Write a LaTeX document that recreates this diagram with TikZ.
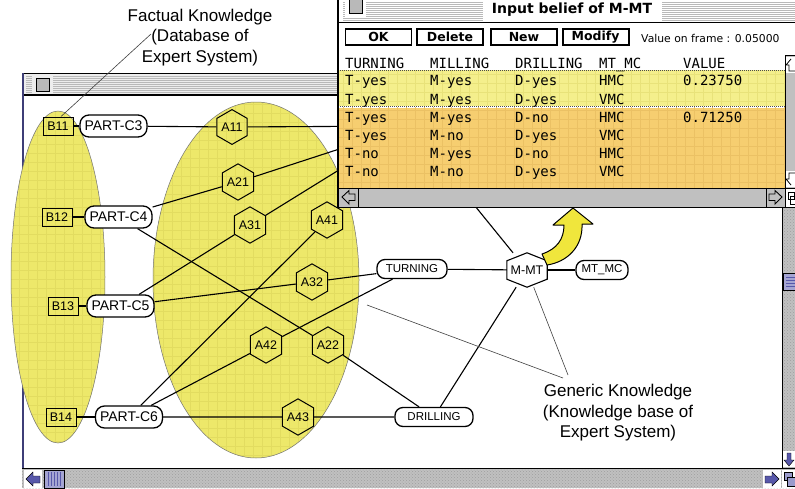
\documentclass[tikz,border=0pt]{standalone}
\usepackage{fontspec}
\setmainfont{Liberation Sans}
\newfontfamily\monof{DejaVu Sans Mono}
\newfontfamily\macf{DejaVu Sans}
\usetikzlibrary{shapes.geometric,calc,patterns}
\definecolor{ellY}{RGB}{237,232,106}
\definecolor{ellG}{RGB}{226,220,96}
\definecolor{bandY}{RGB}{244,239,140}
\definecolor{bandYG}{RGB}{232,226,122}
\definecolor{bandO}{RGB}{246,206,112}
\definecolor{bandOG}{RGB}{235,193,100}
\definecolor{arrY}{RGB}{240,230,60}
\definecolor{macblue}{RGB}{88,88,170}
\definecolor{thumbB}{RGB}{165,165,210}
\definecolor{scrollG}{RGB}{192,192,192}
\begin{document}
\begin{tikzpicture}[x=1pt,y=-1pt,
  bbox/.style={draw,line width=1,minimum width=30,minimum height=18,inner sep=0,font=\fontsize{12.5}{13}\selectfont},
  pbox/.style={draw,fill=white,line width=1.3,rounded corners=9,minimum height=22,minimum width=67,inner sep=0,font=\fontsize{14}{15}\selectfont},
  vbox/.style={draw,fill=white,line width=1.3,rounded corners=8,minimum height=19,inner sep=0,font=\fontsize{11.5}{12}\selectfont},
  hexa/.style={draw,line width=1,regular polygon,regular polygon sides=6,shape border rotate=30,minimum size=34,inner sep=0,font=\fontsize{12.5}{13}\selectfont},
  conn/.style={line width=1.1},
  annot/.style={line width=0.6,black!75},
  notetext/.style={align=center,inner sep=0,font=\fontsize{17}{20.5}\selectfont},
  tcell/.style={anchor=base west,inner sep=0,font=\monof\fontsize{14}{15}\selectfont},
  btn/.style={draw,line width=1.2,minimum width=66,minimum height=16,inner sep=0,font=\macf\bfseries\fontsize{12.5}{13}\selectfont},
  gridln/.style={line width=0.3},
]
\useasboundingbox (0,0) rectangle (795,488);
\fill[white] (0,0) rectangle (795,488);

% ---------- main window ----------
\fill[white] (22,73) rectangle (795,468);
\fill[gray!14] (22,73) rectangle (795,95);
\foreach \yy in {76,78,...,92} \draw[gray!55,line width=0.7] (26,\yy) -- (795,\yy);
\fill[gray!14] (32,75) rectangle (53,93);
\draw[line width=1,fill=gray!55] (36,78) rectangle (49,91);
\draw[line width=1] (22,73) -- (795,73);
\draw[line width=1.3] (22,95) -- (782,95);
\draw[line width=2.2,macblue!70!black] (23,73) -- (23,468);

% right scrollbar
\fill[scrollG] (782,95) rectangle (795,468);
\fill[pattern=crosshatch dots,pattern color=gray!75] (782,95) rectangle (795,468);
\draw[line width=1] (782,95) -- (782,468);
\draw[fill=thumbB] (783,273) rectangle (795,290);
\foreach \yy in {277,280,...,287} \draw[macblue] (786,\yy) -- (795,\yy);
\fill[white] (783,451) rectangle (795,467);
\draw[fill=macblue] (789,466) -- (784,460) -- (787,460) -- (787,453) -- (791,453) -- (791,460) -- (794,460) -- cycle;

% bottom scrollbar
\fill[scrollG] (22,468) rectangle (795,488);
\fill[pattern=crosshatch dots,pattern color=gray!75] (22,468) rectangle (795,488);
\draw[line width=1] (22,468) -- (795,468);
\fill[white] (24,469.5) rectangle (42,488);
\draw[fill=macblue] (26,479) -- (33,472) -- (33,476) -- (40,476) -- (40,483) -- (33,483) -- (33,486) -- cycle;
\draw[fill=thumbB] (44,470) rectangle (64,488);
\foreach \xx in {48,51,...,60} \draw[macblue] (\xx,472) -- (\xx,486);
\fill[white] (763,469.5) rectangle (781,488);
\draw[fill=macblue] (779,479) -- (772,472) -- (772,476) -- (765,476) -- (765,483) -- (772,483) -- (772,486) -- cycle;
\fill[white] (782,469.5) rectangle (795,488);
\draw[fill=macblue!60] (784,472) rectangle (792,480);
\draw[fill=macblue!60] (787,477) rectangle (795,486);

% ---------- yellow ellipses ----------
\fill[ellY] (58,277) ellipse [x radius=47,y radius=166];
\begin{scope}
  \clip (58,277) ellipse [x radius=47,y radius=166];
  \foreach \xx in {10,19,...,110} \draw[ellG,gridln] (\xx,105) -- (\xx,450);
  \foreach \yy in {108,117,...,450} \draw[ellG,gridln] (8,\yy) -- (110,\yy);
\end{scope}
\draw[black!55,line width=0.5] (58,277) ellipse [x radius=47,y radius=166];

\fill[ellY] (256,280) ellipse [x radius=103,y radius=178];
\begin{scope}
  \clip (256,280) ellipse [x radius=103,y radius=178];
  \foreach \xx in {154,163,...,362} \draw[ellG,gridln] (\xx,100) -- (\xx,460);
  \foreach \yy in {104,113,...,460} \draw[ellG,gridln] (150,\yy) -- (362,\yy);
\end{scope}
\draw[black!55,line width=0.5] (256,280) ellipse [x radius=103,y radius=178];

% ---------- nodes ----------
\node[bbox] (b11) at (58,126) {B11};
\node[bbox] (b12) at (57,217) {B12};
\node[bbox] (b13) at (63,306) {B13};
\node[bbox] (b14) at (61,417) {B14};
\node[pbox] (pc3) at (113.5,126) {PART-C3};
\node[pbox] (pc4) at (118.5,217) {PART-C4};
\node[pbox] (pc5) at (120.5,306) {PART-C5};
\node[pbox] (pc6) at (129,417) {PART-C6};
\node[hexa] (a11) at (232,127) {A11};
\node[hexa] (a21) at (238,182) {A21};
\node[hexa] (a31) at (250,225) {A31};
\node[hexa] (a41) at (327,220) {A41};
\node[hexa] (a32) at (312,282) {A32};
\node[hexa] (a42) at (266,345) {A42};
\node[hexa] (a22) at (328,345) {A22};
\node[hexa] (a43) at (298,417) {A43};
\node[vbox,minimum width=70] (turn) at (412,269) {TURNING};
\node[vbox,minimum width=78] (drill) at (434,417) {DRILLING};
\node[vbox,minimum width=52] (mtmc) at (602,270) {MT\_MC};
\node[minimum width=40,minimum height=34,inner sep=0] (mmt) at (527,270) {};
\draw[line width=1.1,fill=white] (mmt.north) -- ($(mmt.north east)+(0pt,-8pt)$) -- ($(mmt.south east)+(0pt,8pt)$) -- (mmt.south) -- ($(mmt.south west)+(0pt,8pt)$) -- ($(mmt.north west)+(0pt,-8pt)$) -- cycle;
\node[inner sep=0,font=\fontsize{12.5}{13}\selectfont] (mmtlabel) at (mmt.center) {M-MT};
\coordinate (milling) at (410,126);

% ---------- connectors ----------
\draw[conn] (b11) -- (pc3);
\draw[conn] (pc3) -- (a11);
\draw[conn] (a11) -- (milling);
\draw[conn] (b12) -- (pc4);
\draw[conn] (pc4) -- (a21);
\draw[conn] (a21) -- (milling);
\draw[conn] (pc4) -- (a22);
\draw[conn] (a22) -- (drill);
\draw[conn] (b13) -- (pc5);
\draw[conn] (pc5) -- (a31);
\draw[conn] (a31) -- (milling);
\draw[conn] (pc5) -- (a32);
\draw[conn] (a32) -- (turn);
\draw[conn] (b14) -- (pc6);
\draw[conn] (pc6) -- (a41);
\draw[conn] (a41) -- (milling);
\draw[conn] (pc6) -- (a42);
\draw[conn] (a42) -- (turn);
\draw[conn] (pc6) -- (a43);
\draw[conn] (a43) -- (drill);
\draw[conn] (turn) -- (mmt);
\draw[conn] (mmt) -- (mtmc);
\draw[conn] (drill) -- (mmt);
\draw[conn] (milling) -- (mmt);

% ---------- popup window ----------
\fill[white] (338,0) rectangle (795,207);
\foreach \yy in {2,4,...,20} \draw[gray!55,line width=0.7] (343,\yy) -- (795,\yy);
\fill[white] (483,0) rectangle (662,21);
\fill[white] (345,0) rectangle (366,17);
\draw[line width=1,fill=gray!55] (349,-1) rectangle (362,13);
\node[inner sep=0,font=\macf\bfseries\fontsize{14}{15}\selectfont] (ptitle) at (572,10) {Input belief of M-MT};
\draw[line width=1] (338,22) -- (795,22);

\node[btn] (ok) at (378.5,37) {OK};
\node[btn] (del) at (450,37) {Delete};
\node[btn] (new) at (524,37) {New};
\node[btn,line width=2] (mod) at (595.5,37) {Modify};
\node[anchor=west,inner sep=0,font=\macf\fontsize{10.8}{11}\selectfont] (vof) at (641,38) {Value on frame : 0.05000};

% bands
\fill[bandY] (338,70) rectangle (785,105.5);
\begin{scope}
  \clip (338,70) rectangle (785,105.5);
  \foreach \xx in {343,352,...,785} \draw[bandYG,gridln] (\xx,70) -- (\xx,106);
  \foreach \yy in {74,83,...,106} \draw[bandYG,gridln] (338,\yy) -- (785,\yy);
\end{scope}
\fill[bandO] (338,107.5) rectangle (785,188);
\begin{scope}
  \clip (338,107.5) rectangle (785,188);
  \foreach \xx in {343,352,...,785} \draw[bandOG,gridln] (\xx,107) -- (\xx,188);
  \foreach \yy in {110,119,...,188} \draw[bandOG,gridln] (338,\yy) -- (785,\yy);
\end{scope}
\draw[black!70,line width=0.6,dash pattern=on 1pt off 1pt] (338,70) -- (785,70);
\draw[black!70,line width=0.6,dash pattern=on 1pt off 1pt] (338,106.5) -- (785,106.5);
\draw[black!70,line width=0.6,dash pattern=on 1pt off 1pt] (338,188) -- (785,188);

\node[tcell] (h1) at (345,68) {TURNING};
\node[tcell] (h2) at (430,68) {MILLING};
\node[tcell] (h3) at (515,68) {DRILLING};
\node[tcell] (h4) at (599,68) {MT\_MC};
\node[tcell] (h5) at (683,68) {VALUE};
\foreach \a/\b/\c/\d/\e/\yy in {T-yes/M-yes/D-yes/HMC/0.23750/85, T-yes/M-yes/D-yes/VMC//104, T-yes/M-yes/D-no/HMC/0.71250/122, T-yes/M-no/D-yes/VMC//140, T-no/M-yes/D-no/HMC//158, T-no/M-no/D-yes/VMC//176}{
  \node[tcell] (ra\yy) at (345,\yy) {\a};
  \node[tcell] (rb\yy) at (430,\yy) {\b};
  \node[tcell] (rc\yy) at (515,\yy) {\c};
  \node[tcell] (rd\yy) at (599,\yy) {\d};
  \node[tcell] (re\yy) at (683,\yy) {\e};
}

% popup scrollbars
\fill[scrollG] (785,55) rectangle (795,188);
\draw[line width=1] (785,55) -- (785,207);
\draw[line width=1] (785,55) -- (795,55);
\fill[white] (786,57) rectangle (795,73);
\draw[line width=0.8] (791,59) -- (786,65) -- (789,65) -- (789,71) -- (795,71);
\fill[white] (786,171) rectangle (795,187);
\draw[line width=0.8] (791,185) -- (786,179) -- (789,179) -- (789,173) -- (795,173);
\fill[scrollG] (338,188.5) rectangle (785,207);
\draw[line width=1] (338,188.5) -- (795,188.5);
\draw[line width=0.8] (358,188.5) -- (358,207);
\draw[line width=0.8] (766,188.5) -- (766,207);
\draw[line width=0.9] (342,197) -- (349,190.5) -- (349,194) -- (355,194) -- (355,200.5) -- (349,200.5) -- (349,204) -- cycle;
\draw[line width=0.9] (782,197) -- (775,190.5) -- (775,194) -- (769,194) -- (769,200.5) -- (775,200.5) -- (775,204) -- cycle;
\fill[white] (786,189.5) rectangle (795,206);
\draw[line width=0.8] (788,192) rectangle (794,199);
\draw[line width=0.8] (790,196) rectangle (795,204);
\draw[line width=1.6] (338,0) -- (338,207.5) -- (795,207.5);

% yellow curved arrow
\draw[line width=1,fill=arrY,line join=round]
  (542,254) .. controls (557,249) and (564,239) .. (564,225) -- (553,225) -- (573,208) -- (593,224) -- (582,224)
  .. controls (583,247) and (567,262) .. (547,265) -- cycle;

% ---------- annotations ----------
\node[notetext] (fk) at (200,37.5) {Factual Knowledge\\(Database of\\Expert System)};
\coordinate (fkend) at (151,34);
\draw[annot] (fkend) -- ([xshift=3pt]b11.north);
\node[notetext] (gk) at (618,413) {Generic Knowledge\\(Knowledge base of\\Expert System)};
\coordinate (gkA) at (563,378);
\coordinate (gkB) at (568,375);
\coordinate (gs) at (367,305);
\draw[annot] (gs) -- (gkA);
\draw[annot] (mmt) -- (gkB);
\end{tikzpicture}
\end{document}
